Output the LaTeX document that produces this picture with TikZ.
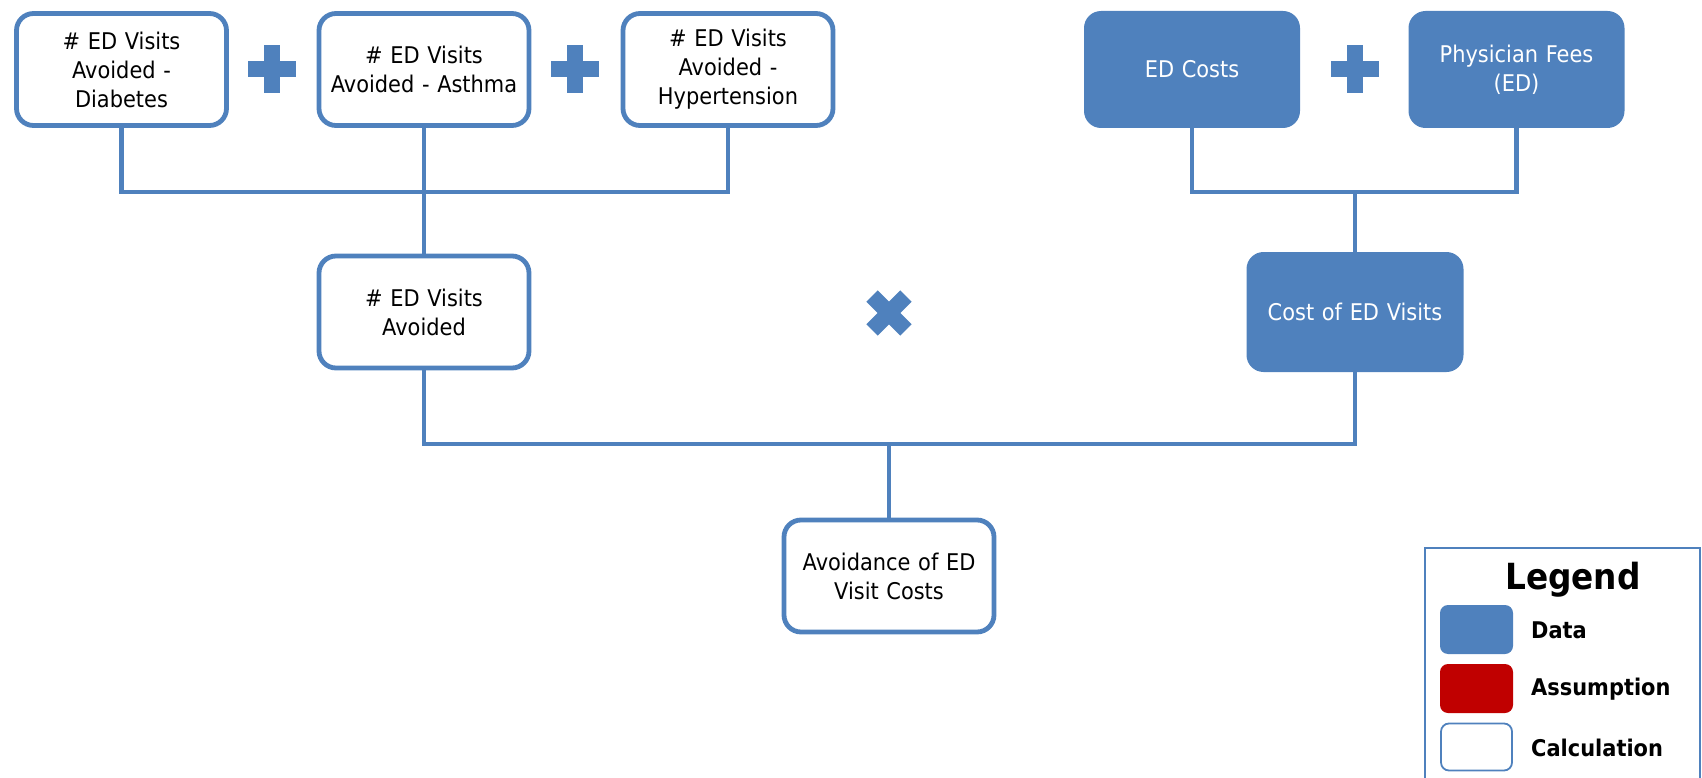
\documentclass[tikz,border=0pt]{standalone}
\usepackage{fontspec}
\setmainfont{DejaVu Sans}[FakeStretch=0.91]
\definecolor{edblue}{HTML}{4F81BD}
\definecolor{edred}{HTML}{C00000}
\tikzset{
  calcbox/.style={draw=edblue, line width=4.8pt, fill=white, rounded corners=17pt,
    minimum width=210pt, minimum height=112pt, text width=200pt, align=center,
    font=\fontsize{23}{29}\selectfont, inner sep=0pt},
  databox/.style={draw=none, fill=edblue, rounded corners=17pt, text=white,
    minimum width=216pt, minimum height=117pt, text width=200pt, align=center,
    font=\fontsize{23}{29}\selectfont, inner sep=0pt},
  conn/.style={draw=edblue, line width=4.2pt},
  swatch/.style={rounded corners=8pt, minimum width=73pt, minimum height=49pt, inner sep=0pt},
  leglabel/.style={anchor=west, font=\bfseries\fontsize{23}{28}\selectfont, inner sep=0pt},
}
\newcommand{\plusshape}[2]{%
  \fill[edblue] (#1-24,#2-8) rectangle (#1+24,#2+8);
  \fill[edblue] (#1-8,#2-24) rectangle (#1+8,#2+24);}
\begin{document}
\begin{tikzpicture}[x=1pt,y=-1pt]
\useasboundingbox (0,0) rectangle (1702,778);
\clip (0,0) rectangle (1702,778);
% junction points
\coordinate (j1) at (424,192);
\coordinate (j2) at (1355,192);
\coordinate (j3) at (889,444);
\node[calcbox] (d1) at (121.5,69.5) {\# ED Visits\\Avoided -\\Diabetes};
\node[calcbox] (d2) at (424,69.5) {\# ED Visits\\Avoided - Asthma};
\node[calcbox] (d3) at (728,69.5) {\# ED Visits\\Avoided -\\Hypertension};
\node[databox] (edc) at (1192,69.5) {ED Costs};
\node[databox] (pf) at (1516.5,69.5) {Physician Fees\\(ED)};
\node[calcbox] (ava) at (424,312) {\# ED Visits\\Avoided};
\node[databox, minimum width=217pt, minimum height=120pt] (cost) at (1355,312) {Cost of ED Visits};
\node[calcbox] (avc) at (889,576) {Avoidance of ED\\Visit Costs};
\draw[conn] (d1.south) |- (j1) -| (d3.south);
\draw[conn] (d2.south) -- (ava.north);
\draw[conn] (edc.south) |- (j2) -| (pf.south);
\draw[conn] (j2) -- (cost.north);
\draw[conn] (ava.south) |- (j3) -| (cost.south);
\draw[conn] (j3) -- (avc.north);
% operators
\plusshape{272}{69}
\plusshape{575}{69}
\plusshape{1355}{69}
\begin{scope}[shift={(889,313)}, rotate=45]
  \fill[edblue] (-24,-8) rectangle (24,8);
  \fill[edblue] (-8,-24) rectangle (8,24);
\end{scope}
% legend
\node[draw=edblue, line width=2pt, minimum width=275pt, minimum height=250pt, anchor=north west, inner sep=0pt] (legbox) at (1423.5,546.5) {};
\node[font=\bfseries\fontsize{36}{40}\selectfont, inner sep=0pt] (legt) at (1573,580) {Legend};
\node[swatch, fill=edblue] (s1) at (1476.5,629.5) {};
\node[swatch, fill=edred] (s2) at (1476.5,688.5) {};
\node[swatch, fill=white, draw=edblue, line width=1.8pt, minimum width=71pt, minimum height=47pt] (s3) at (1476.5,747) {};
\node[leglabel] (l1) at (1531,630) {Data};
\node[leglabel] (l2) at (1531,689) {Assumption};
\node[leglabel] (l3) at (1531,748) {Calculation};
\end{tikzpicture}
\end{document}
